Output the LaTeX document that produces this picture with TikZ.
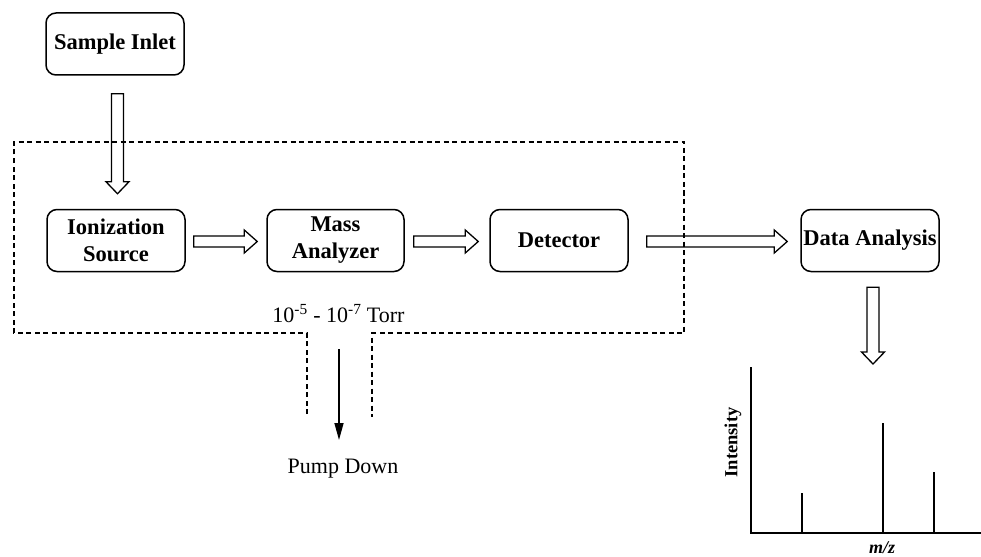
\documentclass[tikz,border=0pt]{standalone}
\usepackage{fontspec}
\setmainfont{Liberation Serif}
\usetikzlibrary{arrows.meta,calc}

\tikzset{
  box/.style={draw, line width=1.5pt, rounded corners=10pt, minimum width=138pt,
    minimum height=62pt, align=center, inner sep=0pt,
    font=\fontsize{22.5}{27}\selectfont\bfseries},
  blockarrow/.style={draw, line width=1.3pt, line join=miter},
  encl/.style={draw, line width=1.5pt, dash pattern=on 5pt off 3.5pt},
  lbl/.style={font=\fontsize{22}{26}\selectfont},
  axisline/.style={line width=2pt},
  peak/.style={line width=2pt},
}

\newcommand\hblock[2]{%
  \draw[blockarrow] let \p1=(#1), \p2=(#2) in
    (\x1,\y1+5.5pt) -- (\x2-13pt,\y1+5.5pt) -- (\x2-13pt,\y1+11.5pt) -- (\x2,\y1)
    -- (\x2-13pt,\y1-11.5pt) -- (\x2-13pt,\y1-5.5pt) -- (\x1,\y1-5.5pt) -- cycle;}
\newcommand\vblock[2]{%
  \draw[blockarrow] let \p1=(#1), \p2=(#2) in
    (\x1-6pt,\y1) -- (\x1-6pt,\y2+12pt) -- (\x1-11.5pt,\y2+12pt) -- (\x1,\y2)
    -- (\x1+11.5pt,\y2+12pt) -- (\x1+6pt,\y2+12pt) -- (\x1+6pt,\y1) -- cycle;}

\begin{document}
\begin{tikzpicture}[x=1pt,y=-1pt]
\useasboundingbox (0,0) rectangle (981,556);

% boxes
\node[box] (inlet) at (115,44) {Sample Inlet};
\node[box] (ion) at (116,240.5) {Ionization\\Source};
\node[box, minimum width=137pt] (mass) at (335.5,240.5) {Mass\\Analyzer};
\node[box] (det) at (559,240.5) {Detector};
\node[box] (data) at (870,240.5) {Data Analysis};

% enclosure (vacuum)
\draw[encl] (307,414) -- (307,333) -- (14,333) -- (14,142) -- (684,142)
  -- (684,333) -- (372,333) -- (372,417);

% block arrows
\coordinate (a1s) at ([xshift=2.5pt,yshift=-18pt]inlet.south);
\coordinate (a1e) at ([xshift=1.5pt,yshift=15pt]ion.north);
\vblock{a1s}{a1e}
\coordinate (a2s) at ([xshift=8pt,yshift=-1pt]ion.east);
\coordinate (a2e) at ([xshift=-9pt,yshift=-1pt]mass.west);
\hblock{a2s}{a2e}
\coordinate (a3s) at ([xshift=9pt,yshift=-1pt]mass.east);
\coordinate (a3e) at ([xshift=-11pt,yshift=-1pt]det.west);
\hblock{a3s}{a3e}
\coordinate (a4s) at ([xshift=18pt,yshift=-1pt]det.east);
\coordinate (a4e) at ([xshift=-13pt,yshift=-1pt]data.west);
\hblock{a4s}{a4e}
\coordinate (a5s) at ([xshift=3pt,yshift=-15pt]data.south);
\coordinate (a5e) at (873,364);
\vblock{a5s}{a5e}

% pressure and pump
\node[lbl, anchor=base] (torr) at (338.5,322) {10\textsuperscript{-5} - 10\textsuperscript{-7} Torr};
\node[lbl, anchor=base] (pump) at (343,473) {Pump Down};
\coordinate (ps) at (339,349);
\coordinate (pe) at (339,440);
\draw[line width=1.5pt, -{Triangle[length=17pt,width=9pt]}] (ps) -- (pe);

% spectrum
\coordinate (ytop) at (751,367);
\coordinate (orig) at (751,533);
\coordinate (xend) at (981,533);
\draw[axisline] (ytop) -- (orig) -- (xend);
\draw[peak] (802,533) -- (802,493);
\draw[peak] (883,533) -- (883,423);
\draw[peak] (934,533) -- (934,472);
\node[rotate=90, font=\fontsize{18.5}{22}\selectfont\bfseries] (inten) at (733,442.5) {Intensity};
\node[font=\fontsize{18}{22}\selectfont\bfseries\itshape] (mz) at (882,547.5) {m/z};
\end{tikzpicture}
\end{document}
